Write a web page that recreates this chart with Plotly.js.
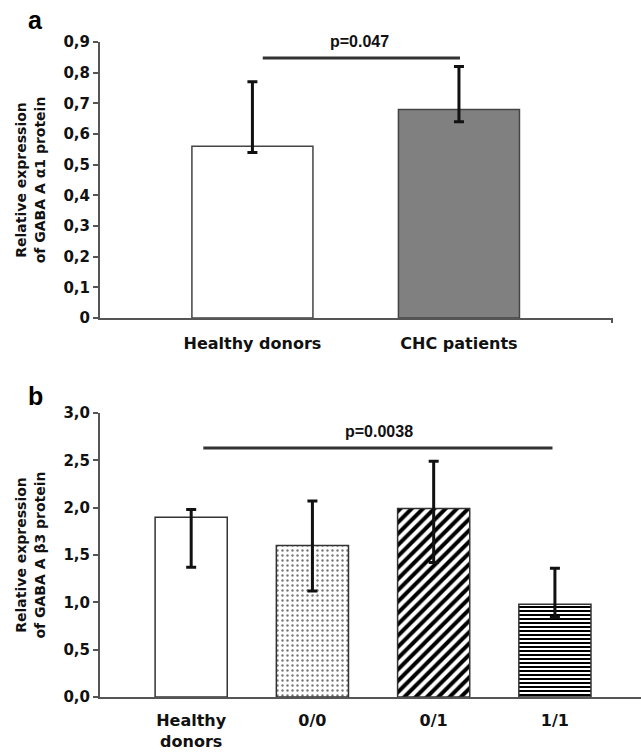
<!DOCTYPE html>
<html>
<head>
<meta charset="utf-8">
<script src="https://cdn.plot.ly/plotly-3.0.1.min.js"></script>
<style>html,body{margin:0;padding:0;background:#fff;}</style>
</head>
<body>
<div id="chart" style="width:641px;height:754px;"></div>
<script>
// Panel a data
var catsA = ["Healthy donors", "CHC patients"];
var valsA = [0.56, 0.68];
var errPlusA = [0.21, 0.14];
var errMinusA = [0.02, 0.04];
var yTicksA = [0, 0.1, 0.2, 0.3, 0.4, 0.5, 0.6, 0.7, 0.8, 0.9];
var yTickTextA = ["0", "0,1", "0,2", "0,3", "0,4", "0,5", "0,6", "0,7", "0,8", "0,9"];

// Panel b data
var catsB = ["Healthy<br>donors", "0/0", "0/1", "1/1"];
var valsB = [1.90, 1.60, 1.99, 0.98];
var errPlusB = [0.08, 0.47, 0.50, 0.38];
var errMinusB = [0.53, 0.48, 0.57, 0.14];
var yTicksB = [0, 0.5, 1.0, 1.5, 2.0, 2.5, 3.0];
var yTickTextB = ["0,0", "0,5", "1,0", "1,5", "2,0", "2,5", "3,0"];

var W = 641, H = 754;
var tickFont = {family: "DejaVu Sans", size: 15, color: "#111", weight: "bold"};
var titleFont = {family: "DejaVu Sans", size: 14, color: "#111", weight: "bold"};
var axisColor = "#555";
var outline = {color: "#444", width: 1.5};
var errStyle = {type: "data", symmetric: false, color: "#111", thickness: 3, width: 5};

var idxA = catsA.map(function(_, i){ return i; });
var idxB = catsB.map(function(_, i){ return i; });

var traces = [
  {
    type: "bar", x: idxA, y: valsA, xaxis: "x", yaxis: "y", width: 0.586,
    marker: {color: ["#ffffff", "#808080"], line: outline},
    error_y: Object.assign({array: errPlusA, arrayminus: errMinusA}, errStyle),
    hoverinfo: "skip"
  },
  {
    type: "bar", x: idxB, y: valsB, xaxis: "x2", yaxis: "y2", width: 0.595,
    marker: {
      color: "#ffffff",
      line: {color: "#333", width: 1.5},
      pattern: {
        shape: ["", ".", "/", "-"],
        fgcolor: ["#ffffff", "#777777", "#000000", "#000000"],
        fgopacity: 1,
        bgcolor: "#ffffff",
        size: [6, 5, 8, 4],
        solidity: [0, 0.18, 0.5, 0.5],
        fillmode: "overlay"
      }
    },
    error_y: Object.assign({array: errPlusB, arrayminus: errMinusB}, errStyle),
    hoverinfo: "skip"
  }
];

function yAxis(domain, range, vals, text, titleText) {
  return {
    domain: domain, range: range, tickvals: vals, ticktext: text,
    ticks: "outside", ticklen: 5, tickwidth: 2, tickcolor: axisColor,
    showline: true, linecolor: axisColor, linewidth: 2,
    showgrid: false, zeroline: false, tickfont: tickFont,
    title: {text: titleText, font: titleFont, standoff: 15},
    fixedrange: true
  };
}

var layout = {
  width: W, height: H,
  margin: {l: 0, r: 0, t: 0, b: 0},
  paper_bgcolor: "#ffffff", plot_bgcolor: "#ffffff",
  showlegend: false, bargap: 0,
  xaxis: {
    domain: [100 / W, 612 / W], anchor: "y", range: [-0.738, 1.741],
    tickvals: idxA, ticktext: catsA, ticks: "", ticklabelstandoff: 10,
    showline: true, linecolor: axisColor, linewidth: 2,
    showgrid: false, zeroline: false,
    tickfont: {family: "DejaVu Sans", size: 16, color: "#111", weight: "bold"},
    fixedrange: true
  },
  yaxis: yAxis([1 - 318 / H, 1 - 42 / H], [0, 0.9], yTicksA, yTickTextA,
               "Relative expression<br>of GABA A α1 protein"),
  xaxis2: {
    domain: [100 / W, 1], anchor: "y2", range: [-0.752, 3.71],
    tickvals: idxB, ticktext: catsB, ticks: "", ticklabelstandoff: 8,
    showline: true, linecolor: axisColor, linewidth: 2,
    showgrid: false, zeroline: false,
    tickfont: {family: "DejaVu Sans", size: 16, color: "#111", weight: "bold"},
    fixedrange: true
  },
  yaxis2: yAxis([1 - 697 / H, 1 - 413 / H], [0, 3.0], yTicksB, yTickTextB,
                "Relative expression<br>of GABA A β3 protein"),
  shapes: [
    {type: "line", xref: "x", yref: "y", x0: 0.05, x1: 1.005, y0: 0.848, y1: 0.848,
     line: {color: "#333", width: 3}},
    {type: "line", xref: "x2", yref: "y2", x0: 0.1, x1: 2.98, y0: 2.63, y1: 2.63,
     line: {color: "#333", width: 3}},
    {type: "line", xref: "x domain", yref: "y domain", x0: 1, x1: 1, y0: 0, y1: -0.018,
     line: {color: axisColor, width: 2}}
  ],
  annotations: [
    {text: "p=0.047", xref: "x", yref: "paper", x: 0.52, y: 1 - 31 / H, showarrow: false,
     font: {family: "Liberation Sans", size: 16, color: "#111", weight: "bold"}},
    {text: "p=0.0038", xref: "x2", yref: "paper", x: 1.55, y: 1 - 431 / H, showarrow: false,
     font: {family: "Liberation Sans", size: 16, color: "#111", weight: "bold"}},
    {text: "a", xref: "paper", yref: "paper", x: 25.5 / W, y: 1 - 4 / H, yanchor: "top", showarrow: false,
     font: {family: "Liberation Sans", size: 25, color: "#000", weight: "bold"}},
    {text: "b", xref: "paper", yref: "paper", x: 25.5 / W, y: 1 - 380 / H, yanchor: "top", showarrow: false,
     font: {family: "Liberation Sans", size: 25, color: "#000", weight: "bold"}}
  ]
};

Plotly.newPlot("chart", traces, layout, {staticPlot: true, displayModeBar: false});
</script>
</body>
</html>
